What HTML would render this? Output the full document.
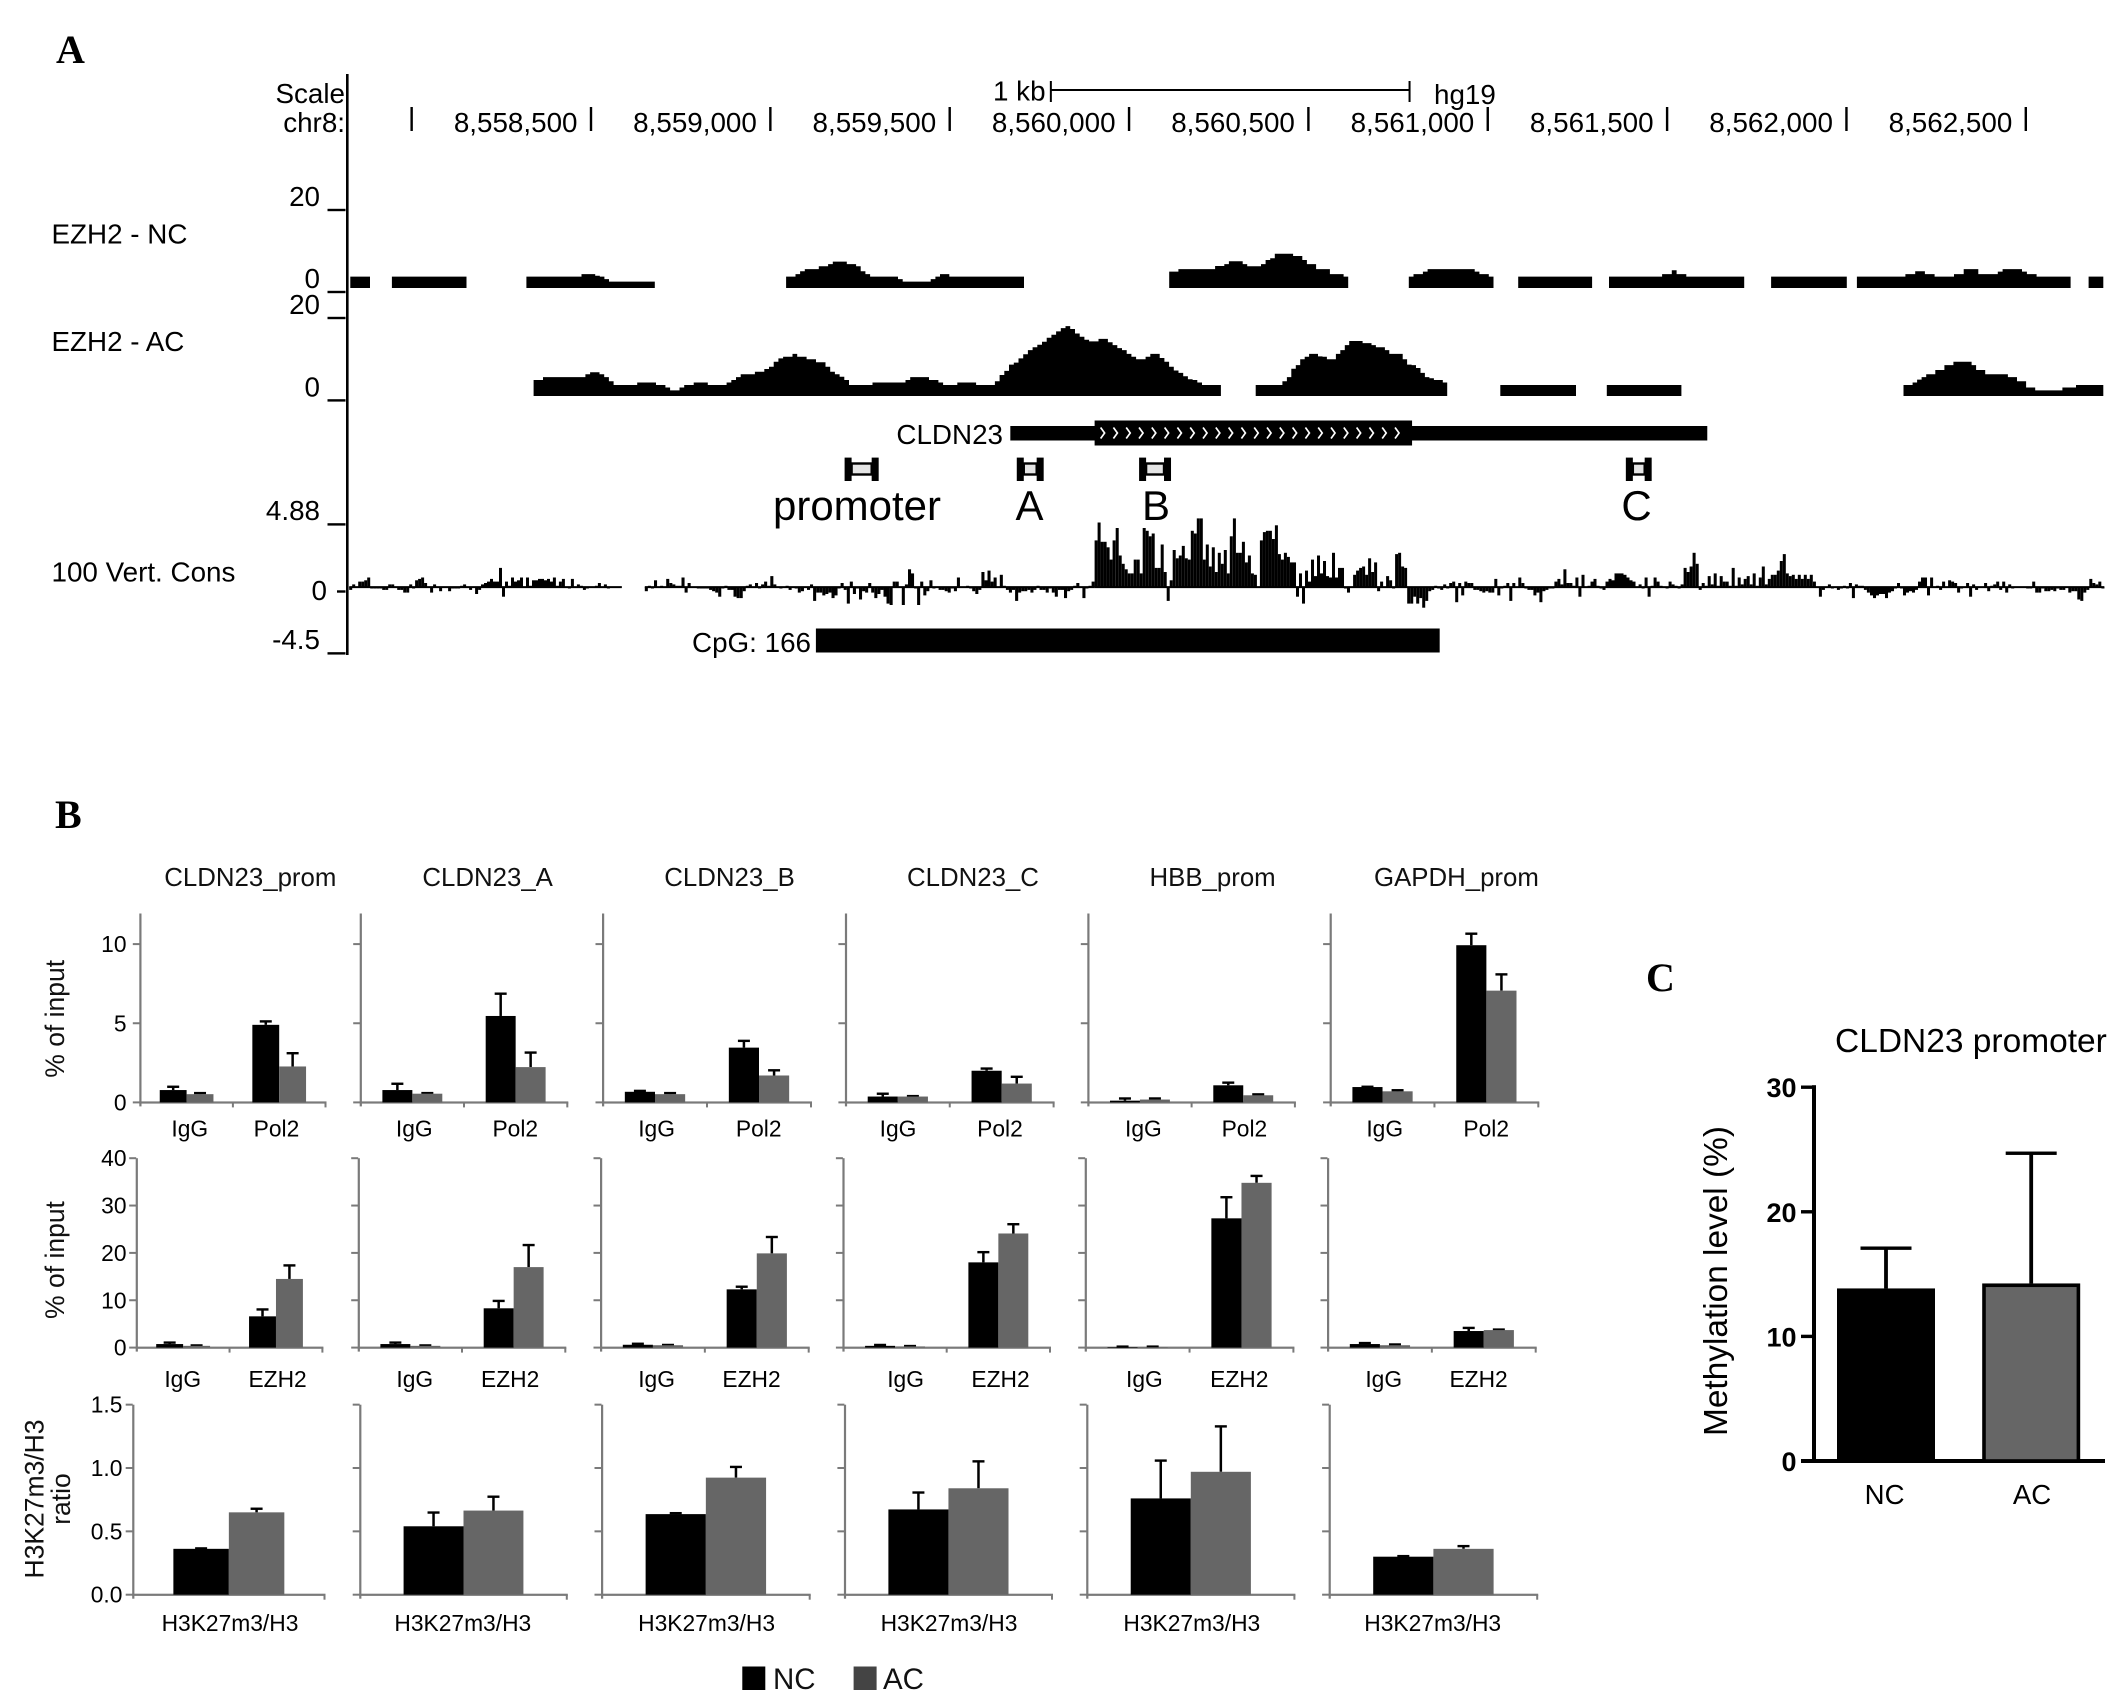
<!DOCTYPE html>
<html lang="en">
<head>
<meta charset="utf-8">
<title>CLDN23 locus, ChIP and methylation</title>
<style>
html,body{margin:0;padding:0;background:#fff}
svg{display:block}
text{font-family:"Liberation Sans",sans-serif;fill:#000}
.letter{font-family:"Liberation Serif",serif;font-weight:bold;font-size:40px}
.a{font-size:27.8px}
.big{font-size:42px}
.ti{font-size:25.8px;fill:#111}
.yt{font-size:26.5px;fill:#111}
.lg{font-size:29.5px;fill:#111}
</style>
</head>
<body>
<svg id="fig" xmlns="http://www.w3.org/2000/svg" width="2126" height="1703" viewBox="0 0 2126 1703">
<rect x="0" y="0" width="2126" height="1703" fill="#fff"/>
<text class="letter" x="56" y="63">A</text>
<text class="letter" x="55" y="828">B</text>
<text class="letter" x="1646" y="991">C</text>

<g id="panelA">
<rect x="346" y="74" width="2.6" height="581" fill="#000"/>
<text class="a" x="345" y="103" text-anchor="end">Scale</text>
<text class="a" x="345" y="132" text-anchor="end">chr8:</text>
<text class="a" x="993" y="100.5">1 kb</text>
<text class="a" x="1434" y="104">hg19</text>
<text class="a" x="51.5" y="243.5">EZH2 - NC</text>
<text class="a" x="51.5" y="351">EZH2 - AC</text>
<text class="a" x="51.5" y="581.5">100 Vert. Cons</text>
<text class="a" x="1003" y="444" text-anchor="end">CLDN23</text>
<text class="a" x="811" y="652" text-anchor="end">CpG: 166</text>
<text class="big" x="857" y="520" text-anchor="middle">promoter</text>
<text class="big" x="1029.5" y="520" text-anchor="middle">A</text>
<text class="big" x="1156" y="520" text-anchor="middle">B</text>
<text class="big" x="1636.5" y="520" text-anchor="middle">C</text>
</g>

<g id="panelB">
<text class="yt" transform="rotate(-90 64 1018.8)" x="64" y="1018.8" text-anchor="middle">% of input</text>
<text class="yt" transform="rotate(-90 64 1260)" x="64" y="1260" text-anchor="middle">% of input</text>
<text class="yt" transform="rotate(-90 43.5 1499)" x="43.5" y="1499" text-anchor="middle">H3K27m3/H3</text>
<text class="yt" transform="rotate(-90 70 1499)" x="70" y="1499" text-anchor="middle">ratio</text>
<rect x="742.3" y="1666.5" width="23" height="23.5" fill="#000"/>
<text class="lg" x="773" y="1689">NC</text>
<rect x="853.6" y="1666.5" width="23" height="23.5" fill="#444"/>
<text class="lg" x="883" y="1689">AC</text>
</g>

<g id="panelC">
<text x="1835" y="1052" font-size="33.5">CLDN23 promoter</text>
<text transform="rotate(-90 1726.8 1281)" x="1726.8" y="1281" text-anchor="middle" font-size="33.4">Methylation level (%)</text>
</g>
</svg>

<script>
/* ---------- Panel A data (genomic coordinates, signal units) ---------- */
const positionTicks = [8558000,8558500,8559000,8559500,8560000,8560500,8561000,8561500,8562000,8562500];
const positionLabels = ['', '8,558,500','8,559,000','8,559,500','8,560,000','8,560,500','8,561,000','8,561,500','8,562,000','8,562,500'];

const ncSegmentStarts = [8557829,8557945,8558320,8559044,8560112,8560780,8561085,8561338,8561790,8562029,8562675];
const ncSegmentEnds   = [8557884,8558153,8558678,8559707,8560611,8561016,8561291,8561715,8562001,8562625,8562716];
const ncSegmentValues = [
 [4.2],
 [4.2],
 [4.2,4.2,4.2,4.2,4.2,4.2,4.2,4.2,4.2,4.2,4.2,4.2,4.8,4.8,4.8,4.4,4.2,3.6,3,3,3,3,3,3,3,3,3,3],
 [4.2,4.2,4.8,5.5,6,6,6,6.7,6.7,7.2,7.8,7.8,7.8,7.2,7.2,6.7,5.5,4.8,4.2,4.2,4.2,4.2,4.2,4.2,3.6,3,3,3,3,3,3,3.6,4.2,4.8,4.8,4.2,4.2,4.2,4.2,4.2,4.2,4.2,4.2,4.2,4.2,4.2,4.2,4.2,4.2,4.2,4.2],
 [5.4,5.4,6,6,6,6,6,6,6,6,6.75,6.75,7.2,7.9,7.9,7.9,7.2,6.7,6.7,6.7,7.2,8.2,8.6,9.7,9.7,9.7,9.7,9.15,9.15,8.2,7.2,7.2,6,6,6,4.8,4.8,4.8,4.2],
 [4.2,4.8,4.8,5.4,6,6,6,6,6,6,6,6,6,6,5.4,4.8,4.8,4.2],
 [4.2],
 [4.2,4.2,4.2,4.2,4.2,4.2,4.2,4.2,4.2,4.2,4.2,4.8,4.8,5.7,4.8,4.8,4.2,4.2,4.2,4.2,4.2,4.2,4.2,4.2,4.2,4.2,4.2,4.2],
 [4.2],
 [4.2,4.2,4.2,4.2,4.2,4.2,4.2,4.2,4.2,4.2,4.8,4.8,5.5,5.5,4.8,4.8,4.2,4.2,4.2,4.2,4.8,4.8,6,6,6,4.8,4.8,4.8,4.8,5.4,6,6,6,6,5.4,4.8,4.8,4.2,4.2,4.2,4.2,4.2,4.2,4.2],
 [4.2]
];

const acSegmentStarts = [8558340,8560353,8561035,8561332,8562159];
const acSegmentEnds   = [8560256,8560887,8561246,8561540,8562716];
const acSegmentValues = [
 [5.3,5.3,6,6,6,6,6,6,6,6,6,6.7,7.15,7.15,6.7,6,5,4.1,4.1,4.1,4.1,4.1,4.7,4.7,4.7,4.7,4.1,4.1,3.5,2.8,2.8,3.5,4.1,4.1,4.7,4.7,4.7,4.1,4.1,4.1,4.1,4.7,5.3,6,6.7,6.7,6.7,7.3,7.3,7.95,8.5,9.7,10.5,10.9,10.9,11.6,10.9,10.9,10.3,10.3,9.6,9.6,8.5,7.3,6.7,6.1,5.3,4.1,4.1,4.1,4.1,4.1,4.7,4.7,4.7,4.7,4.7,4.7,4.7,5.3,6,6,6,6,5.3,5.3,4.7,4.1,4.1,4.1,4.7,4.7,4.7,4.7,4.1,4.1,4.1,4.1,5,6.5,7.5,9,9.5,10.5,11.5,12.5,13.2,13.8,14.5,15.5,16.2,17,17.8,18.3,17.6,16.5,15.7,15,14.6,14.6,15.2,15.2,14.4,13.7,13,12.5,11.6,10.9,10.3,10.3,10.9,11.6,11.6,10.6,9.7,8.5,7.6,7,6.2,5.5,5.3,4.7,4.1,4.1,4.1,4.1],
 [4.1,4.1,4.1,4.1,4.1,4.1,5,6,8,8.9,10.3,10.9,11.6,11.6,11,10.9,10.3,10.3,11.6,12.5,13.7,14.7,14.7,14.7,14.2,14.2,13.7,13.2,13.2,12.5,11.6,11.6,11.6,10.3,9,8.9,8.2,7,6,5.7,5.3,5.3,4.7],
 [4.1],
 [4.1],
 [4.1,4.1,4.7,5.4,6,6.7,6.7,7.7,7.7,8.9,8.9,9.7,9.7,9.7,9.7,8.9,7.7,7.7,6.7,6.7,6.7,6.7,6.7,6,6,5,5,3.5,3.5,2.8,2.8,2.8,2.8,2.8,2.8,3.5,3.5,3.5,4.1,4.1,4.1,4.1,4.1,4.1]
];

const consSectionStarts = [8557826,8558650,8559904];
const consSectionEnds   = [8558586,8559904,8562719];
const consFlankValues = [0.3,0.7,0.5,0.9,0.9,1.0,1.2,0.4,0.4,0.4,0.4,0.3,0.3,0.7,0.7,0.5,0.3,0.3,0.1,0.1,0.7,0.4,1.0,1.1,1.2,0.8,0.5,0.1,0.7,0.5,0.2,0.5,0.5,0.2,0.4,0.4,0.4,0.6,0.7,0.5,0.3,0.5,0.0,0.3,0.7,0.8,0.9,1.1,0.9,0.9,1.9,-0.2,0.9,0.6,1.2,0.9,1.0,1.2,0.5,1.2,0.6,1.0,1.0,1.1,1.1,1.0,1.1,0.9,1.2,0.6,0.9,1.1,0.5,0.4,1.1,0.5,0.7,0.6,0.3,0.4,0.5,0.5,0.6,0.8,0.5,0.7,0.4,0.5,0.5,0.5,0.5];
const consUpstreamValues = [0.2,0.6,0.4,1.0,0.5,0.6,0.5,1.1,0.8,0.7,0.6,0.6,1.2,0.1,0.8,0.5,0.5,0.4,0.4,0.4,
 0.4,0.3,0.2,0.1,-0.2,0.4,0.6,0.3,0.3,-0.2,-0.3,-0.3,0.2,0.6,0.7,0.5,0.8,0.4,0.7,0.9,0.6,1.3,0.7,0.5,
 0.4,0.5,0.6,0.3,0.5,0.4,0.1,0.2,0.5,0.3,0.7,-0.5,0.1,0.1,-0.1,0.0,0.1,-0.3,-0.1,0.4,0.8,0.3,-0.7,0.9,
 0.0,0.4,-0.4,0.2,0.1,0.8,0.1,-0.3,0.0,0.3,-0.2,-0.7,-0.8,0.9,0.9,0.5,-0.8,0.7,1.8,1.5,0.4,-0.8,
 0.9,-0.1,0.2,1.0,0.4,0.5,0.3,0.3,0.2,0.1,0.4,0.2,1.2,0.5,0.5,0.6,0.4,0.2,0.0,0.3,1.6,1.0,1.7,0.9,1.2,0.5,
 1.4,0.6,0.3,0.1,0.3,-0.5,0.1,0.2,0.2,0.3,0.1,0.3,0.6,0.3,0.3,0.1,0.4,0.1,-0.2,0.3,0.3,-0.3,0.2,0.3,0.6,0.8,0.5,-0.3,0.4,0.6,0.9];
const consCoreValues = [3.9,5.2,3.8,3.8,3.4,2.5,3.9,4.8,2.8,2.2,1.8,
 1.5,1.5,2.5,2.5,1.5,4.8,4.6,4.2,4.4,1.9,1.9,3.6,1.6,
 -0.5,1.0,3.2,2.6,2.8,3.5,2.6,2.5,4.6,4.4,5.5,
 5.5,2.5,3.6,2.0,3.4,1.6,3.0,2.2,3.2,1.5,4.2,5.5,
 3.0,3.0,3.8,2.3,2.8,1.5,1.4,0.5,
 3.9,4.5,4.6,4.6,4.0,5.0,2.9,2.5,3.0,2.7,2.3,
 2.3,-0.2,1.5,-0.7,1.7,0.9,
 2.5,1.3,2.8,1.5,2.4,1.3,1.2,3.0,1.2,1.9,1.9,
 0.4,0.1,0.5,1.4,1.7,1.9,2.0,1.4,2.6,1.6,2.3,
 0.2,0.9,0.5,1.3,1.0,0.4,2.9,3.0,2.0,1.9,
 -0.7,-0.7,-0.2,-0.7,-0.3,-1.0,-0.5,0.2,0.3,0.6,0.4,
 0.3,0.7,0.4,0.8,0.9,-0.6,0.8,-0.1,0.9,0.8,0.8,0.3,0.3,0.2,0.1,0.2,
 0.1,0.1,1.1,-0.1,0.4,0.6,0.8,-0.5,0.8,0.5,1.2,0.8,0.4,0.3,0.3,-0.1,0.1,-0.6,0.2,0.3,0.4,0.4,
 0.9,1.1,0.7,1.8,0.8,0.8,0.6,1.2,-0.2,1.4,0.5,0.6,0.9,1.1,0.6,0.4,0.3,0.9,1.1,1.0,1.5,1.5,
 1.5,1.4,1.2,1.0,0.9,0.5,0.7,0.4,1.2,-0.2,0.6,1.2,0.9,0.6,0.5,0.4,0.9,0.7,0.6,0.4,0.7,1.9,
 1.6,2.0,3.0,2.2,0.3,0.8,0.6,1.3,0.7,1.5,0.6,
 1.3,0.9,0.9,0.6,1.9,0.6,1.2,0.7,1.1,1.3,0.7,
 1.5,0.6,1.2,2.0,0.7,1.1,1.4,1.4,1.7,2.4,2.9,
 1.5,1.3,1.4,1.1,1.4,1.1,1.4,1.1,1.4,0.9,0.5,
 -0.2,0.3,0.5,0.7,0.4,0.5,0.3,0.4,0.6,0.4,0.8,-0.3,0.7,
 0.6,0.6,0.3,0.1,-0.1,-0.3,-0.1,0.0,0.0,-0.3,0.1,0.2,0.4,0.8,0.4,
 -0.1,0.1,0.2,0.1,0.3,0.9,1.2,1.2,-0.1,1.2,0.5,0.6,0.3,0.9,0.5,1.0,0.9,0.8,0.1,0.4,0.5,0.8,
 -0.2,0.7,0.3,0.5,0.5,0.8,0.2,0.6,0.7,0.9,0.3,0.9,0.1,0.7,0.4,0.5,0.5,0.5,0.5,0.4,0.4,0.9,
 0.1,0.1,0.4,0.2,0.2,0.3,0.2,0.4,0.3,0.3,0.5,0.1,0.2,0.2,-0.4,-0.5,0.1,0.3,1.1,0.8,0.7,0.9,0.4];
const consBaselineValue = 0.5;

const scaleBarStart = 8559782;
const scaleBarEnd = 8560782;
const geneStart = 8559669;
const geneEnd = 8561612;
const cdsStart = 8559904;
const cdsEnd = 8560789;
const cpgStart = 8559127;
const cpgEnd = 8560866;
const ampliconStarts = [8559207,8559687,8560028,8561385];
const ampliconEnds = [8559302,8559762,8560117,8561457];
const ncTickValues = [20,0];
const ncTickLabels = ['20','0'];
const acTickValues = [20,0];
const acTickLabels = ['20','0'];
const consTickValues = [4.88,0,-4.5];
const consTickLabels = ['4.88','0','-4.5'];

/* ---------- Panel B data ---------- */
const geneTargets = ['CLDN23_prom','CLDN23_A','CLDN23_B','CLDN23_C','HBB_prom','GAPDH_prom'];
const row1Categories = ['IgG','Pol2'];
const row2Categories = ['IgG','EZH2'];
const row3Category = 'H3K27m3/H3';
const row1TickValues = [0,5,10];
const row1TickLabels = ['0','5','10'];
const row2TickValues = [0,10,20,30,40];
const row2TickLabels = ['0','10','20','30','40'];
const row3TickValues = [0,0.5,1,1.5];
const row3TickLabels = ['0.0','0.5','1.0','1.5'];

const pol2NcMean = [[0.78,4.9],[0.78,5.46],[0.67,3.46],[0.37,2.0],[0.11,1.08],[0.97,9.93]];
const pol2AcMean = [[0.52,2.27],[0.55,2.23],[0.52,1.7],[0.37,1.19],[0.18,0.45],[0.7,7.06]];
const pol2NcErr  = [[0.22,0.23],[0.41,1.42],[0.07,0.44],[0.19,0.15],[0.15,0.18],[0.03,0.74]];
const pol2AcErr  = [[0.08,0.85],[0.05,0.93],[0.08,0.34],[0.04,0.44],[0.08,0.07],[0.08,1.04]];

const ezh2NcMean = [[0.75,6.6],[0.75,8.3],[0.6,12.3],[0.37,18],[0.12,27.3],[0.75,3.5]];
const ezh2AcMean = [[0.37,14.5],[0.37,17],[0.5,19.9],[0.25,24.1],[0.12,34.8],[0.5,3.7]];
const ezh2NcErr  = [[0.35,1.5],[0.35,1.6],[0.25,0.6],[0.23,2.2],[0.13,4.5],[0.25,0.7]];
const ezh2AcErr  = [[0.13,2.9],[0.13,4.7],[0.1,3.5],[0.12,2],[0.13,1.5],[0.2,0.15]];

const k27NcMean = [0.362,0.54,0.636,0.673,0.76,0.30];
const k27AcMean = [0.65,0.664,0.924,0.84,0.97,0.362];
const k27NcErr  = [0.005,0.11,0.009,0.135,0.30,0.006];
const k27AcErr  = [0.03,0.111,0.086,0.214,0.36,0.023];

/* ---------- Panel C data ---------- */
const methylCategories = ['NC','AC'];
const methylMean = [13.85,14.25];
const methylErr = [3.23,10.45];
const methylTickValues = [0,10,20,30];
const methylTickLabels = ['0','10','20','30'];

/* ---------- Helpers ---------- */
const NS = 'http://www.w3.org/2000/svg';
const panelA = document.getElementById('panelA');
const panelB = document.getElementById('panelB');
const panelC = document.getElementById('panelC');

function make(tag, attrs, parent, txt) {
  const el = document.createElementNS(NS, tag);
  for (const k in attrs) el.setAttribute(k, attrs[k]);
  if (txt !== undefined) el.textContent = txt;
  parent.appendChild(el);
  return el;
}

/* ---------- Panel A axes ---------- */
const xGenome = bp => 591 + (bp - 8558500) * 0.3587;
const yNcSignal = v => 294 - v * 4.15;
const yAcSignal = v => 402 - v * 4.15;
const yCons = v => 594 - v * 13.75;
const yNcTick = v => 292 - v * 4.1;
const yAcTick = v => 400.4 - v * 4.12;
const yConsTick = v => 591.5 - v * 13.75;

positionTicks.forEach((bp, i) => {
  const t = make('rect', {x: xGenome(bp) - 1.2, y: 107, width: 2.4, height: 24, fill: '#000'}, panelA);
  
  
  if (positionLabels[i]) {
    const l = make('text', {x: xGenome(bp) - 13.5, y: 132, 'text-anchor': 'end', class: 'a'}, panelA, positionLabels[i]);
    
    
  }
});

const scaleLine = make('path', {d: `M${xGenome(scaleBarStart)} 81V102M${xGenome(scaleBarStart)} 90H${xGenome(scaleBarEnd)}M${xGenome(scaleBarEnd)} 81V102`, stroke: '#000', 'stroke-width': 2, fill: 'none'}, panelA);



ncTickValues.forEach((v, i) => {
  const y = yNcTick(v);
  const t = make('rect', {x: 327.5, y: y - 1.2, width: 18, height: 2.4, fill: '#000'}, panelA);
  
  
  const l = make('text', {x: 320, y: y - 4, 'text-anchor': 'end', class: 'a'}, panelA, ncTickLabels[i]);
  
  
});
acTickValues.forEach((v, i) => {
  const y = yAcTick(v);
  const t = make('rect', {x: 327.5, y: y - 1.2, width: 18, height: 2.4, fill: '#000'}, panelA);
  
  
  const l = make('text', {x: 320, y: y - 4, 'text-anchor': 'end', class: 'a'}, panelA, acTickLabels[i]);
  
  
});
consTickValues.forEach((v, i) => {
  const y = yConsTick(v);
  const isZero = v === 0;
  const t = make('rect', {x: isZero ? 337 : 327.5, y: y - 1.2, width: isZero ? 8.5 : 18, height: 2.4, fill: '#000'}, panelA);
  
  
  const l = make('text', {x: isZero ? 327 : 320, y: isZero ? y + 8.5 : y - 4.2, 'text-anchor': 'end', class: 'a'}, panelA, consTickLabels[i]);
  
  
});

/* signal tracks as stair-step polygons */
function stairPath(start, end, values, yFn, baseline) {
  const x0 = xGenome(start), x1 = xGenome(end);
  const step = (x1 - x0) / values.length;
  let d = `M${x0.toFixed(1)} ${baseline}`;
  values.forEach((v, i) => {
    const y = yFn(v).toFixed(1);
    d += `V${y}H${(x0 + step * (i + 1)).toFixed(1)}`;
  });
  return d + `V${baseline}Z`;
}
ncSegmentValues.forEach((vals, i) => {
  const p = make('path', {d: stairPath(ncSegmentStarts[i], ncSegmentEnds[i], vals, yNcSignal, 288), fill: '#000'}, panelA);
  
  
});
acSegmentValues.forEach((vals, i) => {
  const p = make('path', {d: stairPath(acSegmentStarts[i], acSegmentEnds[i], vals, yAcSignal, 396), fill: '#000'}, panelA);
  
  
});

/* gene model */
const utr = make('rect', {x: xGenome(geneStart), y: 426, width: xGenome(geneEnd) - xGenome(geneStart), height: 14.5, fill: '#000'}, panelA);


const cds = make('rect', {x: xGenome(cdsStart), y: 420.5, width: xGenome(cdsEnd) - xGenome(cdsStart), height: 25, fill: '#000'}, panelA);


for (let cx = xGenome(cdsStart) + 6; cx < xGenome(cdsEnd) - 8; cx += 12.8) {
  const c = make('path', {d: `M${cx} 427.5L${cx + 4} 433L${cx} 438.5`, fill: 'none', stroke: '#fff', 'stroke-width': 1.7}, panelA);
  
  
}

/* amplicon markers */
ampliconStarts.forEach((s, i) => {
  const x0 = xGenome(s), x1 = xGenome(ampliconEnds[i]);
  const g = make('g', {}, panelA);
  
  
  make('rect', {x: x0, y: 457.6, width: 7, height: 23.4, fill: '#000'}, g);
  make('rect', {x: x1 - 7, y: 457.6, width: 7, height: 23.4, fill: '#000'}, g);
  make('rect', {x: x0 + 7, y: 463.5, width: x1 - x0 - 14, height: 11, fill: '#e4e4e4', stroke: '#000', 'stroke-width': 2.4}, g);
});

/* conservation wiggle */
const consBase = yCons(consBaselineValue);
[consFlankValues, consUpstreamValues, consCoreValues].forEach((vals, s) => {
  const x0 = xGenome(consSectionStarts[s]), x1 = xGenome(consSectionEnds[s]);
  const line = make('rect', {x: x0, y: consBase - 1, width: x1 - x0, height: 2, fill: '#000'}, panelA);
  
  
  const step = (x1 - x0) / vals.length;
  vals.forEach((v, i) => {
    const y = yCons(v);
    const bar = make('rect', {x: (x0 + i * step).toFixed(1), y: Math.min(y, consBase).toFixed(1), width: step.toFixed(2), height: Math.abs(y - consBase).toFixed(1), fill: '#000'}, panelA);
    
    
  });
});

const cpg = make('rect', {x: xGenome(cpgStart), y: 628.5, width: xGenome(cpgEnd) - xGenome(cpgStart), height: 24, fill: '#000'}, panelA);



/* ---------- Panel B layout ---------- */
const titleXLayout = [164.3,422.4,664.3,907,1149.5,1374];
const row1Layout = {top: 913.5, zero: 1102.4, unit: 15.83, tickLabelRight: 126.5, labelY: 1136.4,
  axisStart: [140.3,360.7,603,845.9,1088.3,1330.6], axisEnd: [325.5,567.3,811,1053.6,1294.9,1538.3],
  labelX: [[189.8,276.5],[414.3,515.3],[656.6,758.7],[898,1000],[1143.4,1244.4],[1384.7,1486.2]]};
const row2Layout = {top: 1158.2, zero: 1347.6, unit: 4.735, tickLabelRight: 126.5, labelY: 1387,
  axisStart: [136.7,358.7,601,843.4,1085.7,1328], axisEnd: [322.4,565.3,808.7,1050,1293.4,1535.7],
  labelX: [[182.7,277.6],[414.8,510.2],[656.6,751.5],[905.6,1000.5],[1144.4,1239.3],[1383.7,1478.6]]};
const row3Layout = {top: 1404.7, zero: 1594.7, unit: 126.7, tickLabelRight: 122.4, labelY: 1631,
  axisStart: [133.2,360.2,602,844.9,1087.2,1329.6], axisEnd: [324.5,566.8,809.7,1052,1294.4,1537.2],
  labelX: [230,462.8,706.6,949,1191.8,1432.7]};
const axisColor = '#7a7a7a';
const acColor = '#666';

function drawPlotFrame(layout, panelIndex, ticks, tickLabels, midTick) {
  const a = layout.axisStart[panelIndex], b = layout.axisEnd[panelIndex];
  const yAxis = make('rect', {x: a - 1, y: layout.top, width: 2.2, height: layout.zero - layout.top + 4, fill: axisColor}, panelB);
  
  
  const xAxis = make('rect', {x: a - 1, y: layout.zero - 1, width: b - a + 2, height: 2.2, fill: axisColor}, panelB);
  
  
  [b].concat(midTick ? [(a + b) / 2] : []).forEach(tx => {
    const t = make('rect', {x: tx - 1, y: layout.zero, width: 2, height: 5, fill: axisColor}, panelB);
    
    
  });
  ticks.forEach((v, i) => {
    const y = layout.zero - v * layout.unit;
    const t = make('rect', {x: a - 7.5, y: y - 1, width: 7, height: 2, fill: axisColor}, panelB);
    
    
    if (panelIndex === 0) {
      const l = make('text', {x: layout.tickLabelRight, y: y + 8, 'text-anchor': 'end', 'font-size': 22.8, fill: '#111'}, panelB, tickLabels[i]);
      
      
    }
  });
}

function drawBar(layout, cx, width, value, err, fill) {
  const y = layout.zero - value * layout.unit;
  const top = layout.zero - (value + err) * layout.unit;
  const stem = make('rect', {x: cx - 1.25, y: top, width: 2.5, height: y - top, fill: '#000'}, panelB);
  
  
  const cap = make('rect', {x: cx - 6, y: top - 1, width: 12, height: 2.4, fill: '#000'}, panelB);
  
  
  const bar = make('rect', {x: cx - width / 2, y: y, width: width, height: layout.zero - y, fill: fill}, panelB);
  
  
}

function drawCategoryRow(layout, categories, ncMean, acMean, ncErr, acErr, ticks, tickLabels) {
  geneTargets.forEach((target, p) => {
    drawPlotFrame(layout, p, ticks, tickLabels, true);
    const a = layout.axisStart[p], b = layout.axisEnd[p];
    const w = (b - a) * 0.145;
    categories.forEach((cat, c) => {
      const center = a + (b - a) * (c + 0.5) / categories.length;
      drawBar(layout, center - w / 2, w, ncMean[p][c], ncErr[p][c], '#000');
      drawBar(layout, center + w / 2, w, acMean[p][c], acErr[p][c], acColor);
      const l = make('text', {x: layout.labelX[p][c], y: layout.labelY, 'text-anchor': 'middle', 'font-size': 22.8, fill: '#111'}, panelB, cat);
      
      
    });
  });
}

geneTargets.forEach((target, p) => {
  const t = make('text', {x: titleXLayout[p], y: 885.8, class: 'ti'}, panelB, target);
  
  
});

drawCategoryRow(row1Layout, row1Categories, pol2NcMean, pol2AcMean, pol2NcErr, pol2AcErr, row1TickValues, row1TickLabels);
drawCategoryRow(row2Layout, row2Categories, ezh2NcMean, ezh2AcMean, ezh2NcErr, ezh2AcErr, row2TickValues, row2TickLabels);

geneTargets.forEach((target, p) => {
  drawPlotFrame(row3Layout, p, row3TickValues, row3TickLabels, false);
  const a = row3Layout.axisStart[p], b = row3Layout.axisEnd[p];
  const w = (b - a) * 0.29;
  const center = (a + b) / 2;
  drawBar(row3Layout, center - w / 2, w, k27NcMean[p], k27NcErr[p], '#000');
  drawBar(row3Layout, center + w / 2, w, k27AcMean[p], k27AcErr[p], acColor);
  const l = make('text', {x: row3Layout.labelX[p], y: row3Layout.labelY, 'text-anchor': 'middle', 'font-size': 22.8, fill: '#111'}, panelB, row3Category);
  
  
});

/* ---------- Panel C ---------- */
const yMethyl = v => 1461 - v * 12.46;
const methylCenters = [1886, 2031.2];
const methylLabelX = [1884.6, 2032];
const methylBarWidth = 98;

const methylYAxis = make('rect', {x: 1812, y: yMethyl(30) - 2, width: 4, height: yMethyl(0) - yMethyl(30) + 4, fill: '#000'}, panelC);


const methylXAxis = make('rect', {x: 1801, y: yMethyl(0) - 2, width: 304, height: 4, fill: '#000'}, panelC);



methylTickValues.forEach((v, i) => {
  const y = yMethyl(v);
  const t = make('rect', {x: 1801, y: y - 1.7, width: 12, height: 3.4, fill: '#000'}, panelC);
  
  
  const l = make('text', {x: 1796.5, y: y + 10, 'text-anchor': 'end', 'font-size': 27, 'font-weight': 'bold'}, panelC, methylTickLabels[i]);
  
  
});

methylCategories.forEach((cat, i) => {
  const cx = methylCenters[i];
  const y = yMethyl(methylMean[i]);
  const top = yMethyl(methylMean[i] + methylErr[i]);
  const stem = make('rect', {x: cx - 1.9, y: top, width: 3.8, height: y - top, fill: '#000'}, panelC);
  
  
  const cap = make('rect', {x: cx - 25.5, y: top - 1.7, width: 51, height: 3.4, fill: '#000'}, panelC);
  
  
  const bar = make('rect', {x: cx - methylBarWidth / 2 + 1.8, y: y + 1.8, width: methylBarWidth - 3.6, height: yMethyl(0) - y - 1.8, fill: i === 0 ? '#000' : '#666', stroke: '#000', 'stroke-width': 3.6}, panelC);
  
  
  const l = make('text', {x: methylLabelX[i], y: 1504, 'text-anchor': 'middle', 'font-size': 27.6}, panelC, cat);
  
  
});
</script>
</body>
</html>
